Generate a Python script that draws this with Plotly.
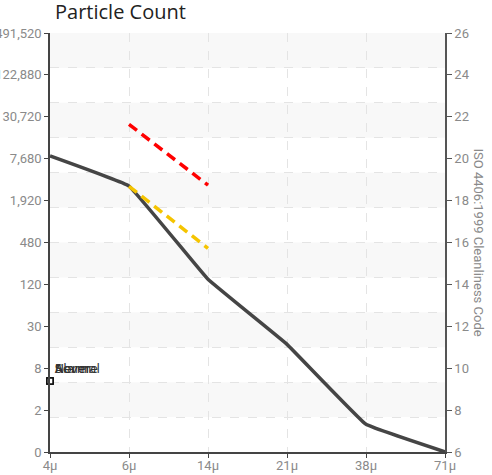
import plotly.graph_objects as go
import math

# ---- data ----
sizes = ["4μ", "6μ", "14μ", "21μ", "38μ", "71μ"]
particle_counts = [8400, 3100, 142, 16.5, 1.17, 0.47]
severe_sizes = ["6μ", "14μ"]
severe_counts = [23900, 3200]
alarm_sizes = ["6μ", "14μ"]
alarm_counts = [3080, 395]
status_labels = ["Severe", "Alarm", "Normal"]
status_size = "4μ"
status_count = 4.9

left_tickvals = [0.46875, 1.875, 7.5, 30, 120, 480, 1920, 7680, 30720, 122880, 491520]
left_ticktext = ["0", "2", "8", "30", "120", "480", "1,920", "7,680", "30,720", "122,880", "491,520"]
iso_codes = [6, 8, 10, 12, 14, 16, 18, 20, 22, 24, 26]

TICKFONT = dict(family="Roboto, sans-serif", size=13, color="#8a8a8a")

fig = go.Figure()

fig.add_trace(go.Scatter(
    x=sizes, y=particle_counts, mode="lines",
    line=dict(color="#454545", width=3.5, shape="spline", smoothing=0.2),
    showlegend=False, cliponaxis=False))
fig.add_trace(go.Scatter(
    x=severe_sizes, y=severe_counts, mode="lines",
    line=dict(color="#ff0000", width=3.5, dash="10px,6px"), showlegend=False))
fig.add_trace(go.Scatter(
    x=alarm_sizes, y=alarm_counts, mode="lines",
    line=dict(color="#f5c400", width=3.5, dash="10px,6px"), showlegend=False))

for lab in status_labels:
    fig.add_trace(go.Scatter(
        x=[status_size], y=[status_count],
        mode="markers+text",
        marker=dict(symbol="square", size=6, color="white", line=dict(width=1.5, color="#111")),
        text=[lab], textposition="top right",
        textfont=dict(family="DejaVu Sans, sans-serif", size=12.5, color="#333"),
        showlegend=False, cliponaxis=False))

# right axis carrier
fig.add_trace(go.Scatter(x=[sizes[0], sizes[-1]], y=[iso_codes[0], iso_codes[-1]], yaxis="y2",
                         mode="lines", line=dict(width=0), opacity=0, hoverinfo="skip", showlegend=False))
# grid carrier
fig.add_trace(go.Scatter(x=[sizes[0], sizes[-1]], y=[0, 12], yaxis="y3",
                         mode="lines", line=dict(width=0), opacity=0, hoverinfo="skip", showlegend=False))

shapes = []
for k in range(12):
    if k % 2 == 1:
        shapes.append(dict(type="rect", xref="paper", yref="y3", x0=0, x1=1, y0=k, y1=k + 1,
                           fillcolor="#f8f8f8", line=dict(width=0), layer="below"))

fig.update_layout(
    width=492, height=475,
    margin=dict(l=50, r=47, t=33, b=23),
    paper_bgcolor="white", plot_bgcolor="white",
    title=dict(text="Particle Count", x=55 / 492, xanchor="left", xref="container",
               y=1 - 12 / 475, yanchor="middle", yref="container",
               font=dict(family="Open Sans, Noto Sans, sans-serif", size=20, color="#222")),
    xaxis=dict(type="category", categoryorder="array", categoryarray=sizes, automargin=False,
               range=[0, len(sizes) - 1], showgrid=True, gridcolor="#e4e4e4", griddash="dash",
               showline=True, linecolor="#444", linewidth=1.5, ticklabelstandoff=-3,
               ticks="outside", ticklen=4, tickcolor="#444", tickfont=TICKFONT, zeroline=False),
    yaxis=dict(type="log", range=[math.log10(left_tickvals[0]), math.log10(left_tickvals[-1])],
               tickvals=left_tickvals, ticktext=left_ticktext, showgrid=False, automargin=False,
               showline=True, linecolor="#444", linewidth=1.5,
               ticks="outside", ticklen=4, tickcolor="#444", tickfont=TICKFONT, zeroline=False),
    yaxis2=dict(overlaying="y", side="right", range=[iso_codes[0], iso_codes[-1]], automargin=False,
                tickvals=iso_codes, showgrid=False, showline=True, linecolor="#555", linewidth=1.5,
                ticks="outside", ticklen=5, tickcolor="#555", tickfont=TICKFONT, zeroline=False),
    yaxis3=dict(overlaying="y", range=[0, 12], dtick=1, showgrid=True, gridcolor="#e4e4e4",
                griddash="dash", showticklabels=False, ticks="", showline=False, zeroline=False,
                automargin=False),
    shapes=shapes,
    annotations=[dict(text="ISO 4406:1999 Cleanliness Code", xref="paper", yref="paper",
                      x=1, xanchor="center", xshift=33, y=0.5, yanchor="middle",
                      textangle=90, showarrow=False, font=TICKFONT)],
    hovermode=False,
)

fig.write_html("out.html", config={"displayModeBar": False},
               post_script="document.body.style.margin='0';document.body.style.padding='0';")
